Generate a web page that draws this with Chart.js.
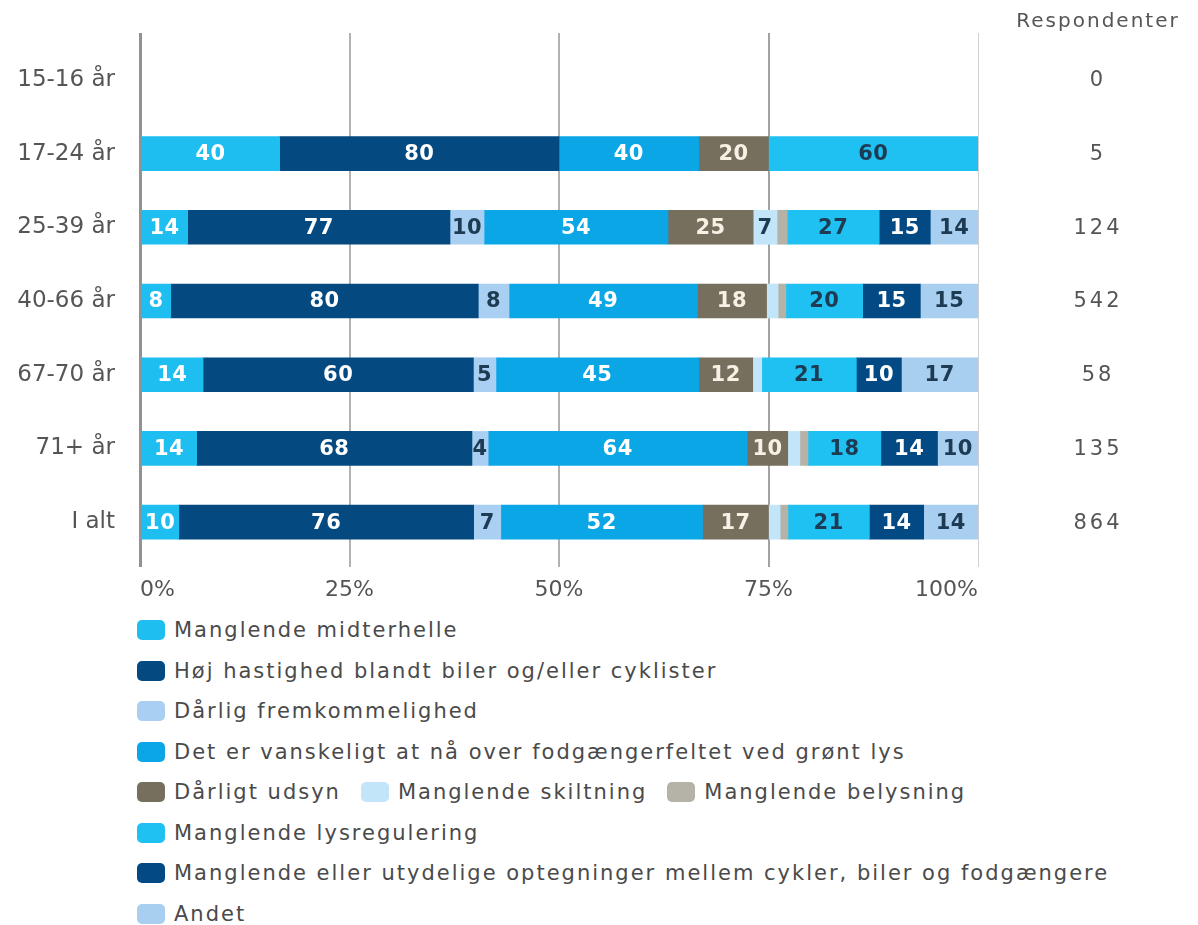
<!DOCTYPE html>
<html lang="da">
<head>
<meta charset="utf-8">
<title>Problemer i krydset fordelt på alder</title>
<script src="https://cdn.jsdelivr.net/npm/chart.js@4.4.1/dist/chart.umd.min.js"></script>
<style>
  body { margin: 0; background: #fff; font-family: "DejaVu Sans", sans-serif; }
  #wrap { position: relative; width: 1198px; height: 925px; overflow: hidden; }
  #chartBox { position: absolute; left: 0; top: 0; width: 1198px; height: 600px; }
  #legend { position: absolute; left: 137px; top: 610px; width: 880px; display: flex; flex-wrap: wrap; column-gap: 20px; }
  .item { display: flex; align-items: center; height: 40.5px; font-size: 21px; letter-spacing: 2px; color: #4a4a4a; white-space: nowrap; }
  .swatch { width: 28px; height: 20px; border-radius: 5px; margin-right: 9px; flex: none; }
</style>
</head>
<body>
<div id="wrap">
  <div id="chartBox"><canvas id="ageChart"></canvas></div>
  <div id="legend"></div>
</div>
<script>
// --- DATA ---
const ageGroups = ["15-16 år", "17-24 år", "25-39 år", "40-66 år", "67-70 år", "71+ år", "I alt"];
const respondents = [0, 5, 124, 542, 58, 135, 864];

const midterhelle     = [0, 40, 14,  8, 14, 14, 10];
const hojHastighed    = [0, 80, 77, 80, 60, 68, 76];
const fremkommelighed = [0,  0, 10,  8,  5,  4,  7];
const vanskeligt      = [0, 40, 54, 49, 45, 64, 52];
const udsyn           = [0, 20, 25, 18, 12, 10, 17];
const skiltning       = [0,  0,  7,  3,  2,  3,  3];
const belysning       = [0,  0,  3,  2,  0,  2,  2];
const lysregulering   = [0, 60, 27, 20, 21, 18, 21];
const optegninger     = [0,  0, 15, 15, 10, 14, 14];
const andet           = [0,  0, 14, 15, 17, 10, 14];

const seriesNames = [
  "Manglende midterhelle",
  "Høj hastighed blandt biler og/eller cyklister",
  "Dårlig fremkommelighed",
  "Det er vanskeligt at nå over fodgængerfeltet ved grønt lys",
  "Dårligt udsyn",
  "Manglende skiltning",
  "Manglende belysning",
  "Manglende lysregulering",
  "Manglende eller utydelige optegninger mellem cykler, biler og fodgængere",
  "Andet"
];
const seriesValues = [midterhelle, hojHastighed, fremkommelighed, vanskeligt, udsyn,
                      skiltning, belysning, lysregulering, optegninger, andet];

const xTickLabels = ["0%", "25%", "50%", "75%", "100%"];

// --- STYLES ---
const seriesColors = ["#1ebef0", "#04497f", "#a9d0f2", "#0ba6e6", "#776f5e",
                      "#c3e5fa", "#b5b3a8", "#1fc0f2", "#034a84", "#a8cef0"];
const labelColors  = ["#ffffff", "#ffffff", "#1d3b53", "#ffffff", "#f6f1e4",
                      "#1d3b53", "#1d3b53", "#1d3b53", "#ffffff", "#1d3b53"];
const gridColors = ["#929292", "#b2b2b2", "#b2b2b2", "#a2a2a2", "#d0d0d0"];
const gridWidths = [3, 2, 2, 2, 1];
const textColor = "#555555";

// every row is stretched to 100%; empty cells stay null so nothing is drawn
const rowTotals = ageGroups.map((_, i) => seriesValues.reduce((s, arr) => s + arr[i], 0));

const datasets = seriesNames.map((name, k) => ({
  label: name,
  data: seriesValues[k].map((v, i) => v && rowTotals[i] ? v / rowTotals[i] : null),
  counts: seriesValues[k],
  labelColor: labelColors[k],
  backgroundColor: seriesColors[k],
  borderWidth: 0,
  barThickness: 34
}));

// numbers inside the segments
const barLabels = {
  id: "barLabels",
  afterDatasetsDraw(chart) {
    const ctx = chart.ctx;
    ctx.save();
    ctx.font = "bold 21px 'DejaVu Sans'";
    ctx.textAlign = "center";
    ctx.textBaseline = "middle";
    ctx.letterSpacing = "0.5px";
    chart.data.datasets.forEach((ds, k) => {
      chart.getDatasetMeta(k).data.forEach((bar, i) => {
        const v = ds.counts[i];
        if (v < 4) return;
        const p = bar.getCenterPoint();
        ctx.fillStyle = ds.labelColor;
        ctx.fillText(String(v), p.x, p.y + 1);
      });
    });
    ctx.restore();
  }
};

// respondent counts on the right
const respondentColumn = {
  id: "respondentColumn",
  afterDraw(chart) {
    const ctx = chart.ctx;
    const y = chart.scales.y;
    ctx.save();
    ctx.fillStyle = textColor;
    ctx.textAlign = "center";
    ctx.textBaseline = "middle";
    ctx.font = "20px 'DejaVu Sans'";
    ctx.letterSpacing = "2px";
    ctx.fillText("Respondenter", 1098, 22);
    ctx.font = "21px 'DejaVu Sans'";
    ctx.letterSpacing = "3px";
    respondents.forEach((n, i) => {
      ctx.fillText(String(n), 1098, y.getPixelForValue(i) + 1);
    });
    ctx.restore();
  }
};

new Chart(document.getElementById("ageChart"), {
  type: "bar",
  data: { labels: ageGroups, datasets },
  plugins: [barLabels, respondentColumn],
  options: {
    indexAxis: "y",
    responsive: true,
    maintainAspectRatio: false,
    animation: false,
    layout: { padding: { top: 33, right: 220, bottom: 0, left: 0 } },
    plugins: { legend: { display: false }, tooltip: { enabled: false } },
    scales: {
      x: {
        stacked: true,
        min: 0,
        max: 1,
        border: { display: false },
        grid: {
          color: c => gridColors[c.index],
          lineWidth: c => gridWidths[c.index],
          tickLength: 8
        },
        ticks: {
          stepSize: 0.25,
          align: "inner",
          padding: 10,
          color: textColor,
          font: { family: "DejaVu Sans", size: 22 },
          callback: (v, i) => xTickLabels[i]
        },
        afterFit: s => { s.height = 41; }
      },
      xTop: {
        position: "top",
        min: 0,
        max: 1,
        border: { display: false },
        grid: {
          drawOnChartArea: false,
          color: c => gridColors[c.index],
          lineWidth: c => gridWidths[c.index],
          tickLength: 10
        },
        ticks: { stepSize: 0.25, display: false },
        afterFit: s => { s.height = 10; }
      },
      y: {
        stacked: true,
        border: { display: false },
        grid: { display: false, drawTicks: false },
        ticks: {
          padding: 25,
          color: textColor,
          font: { family: "DejaVu Sans", size: 23 }
        },
        afterFit: s => { s.width = 140; }
      }
    }
  }
});

// legend under the chart
const legend = document.getElementById("legend");
seriesNames.forEach((name, k) => {
  const item = document.createElement("div");
  item.className = "item";
  item.innerHTML = `<span class="swatch" style="background:${seriesColors[k]}"></span>${name}`;
  legend.appendChild(item);
});
</script>
</body>
</html>
